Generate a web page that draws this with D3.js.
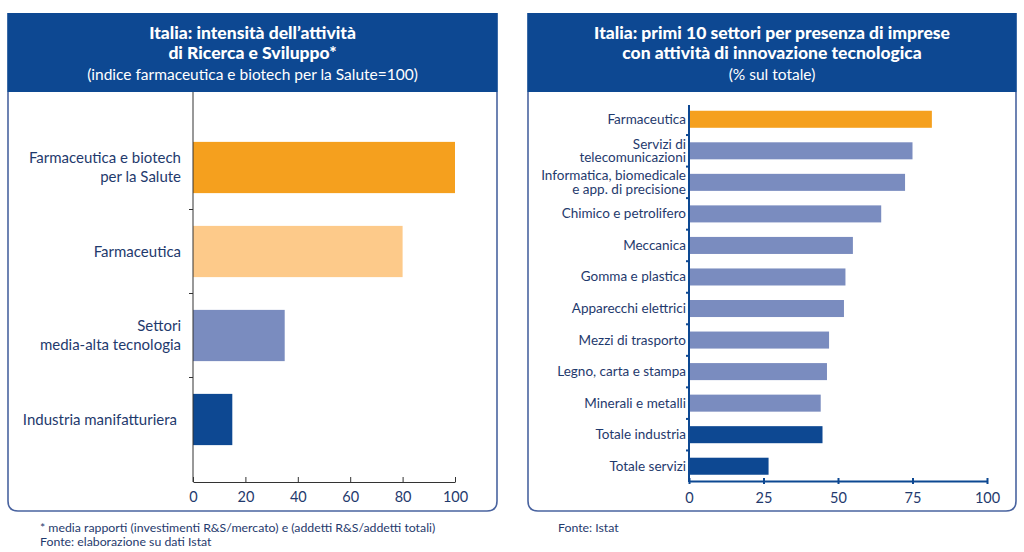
<!DOCTYPE html>
<html><head><meta charset="utf-8">
<script src="https://cdn.jsdelivr.net/npm/d3@7"></script>
<style>
body{margin:0;background:#fff;}
svg{display:block;font-family:Lato, "Open Sans", sans-serif;}
</style></head>
<body><svg id="c" width="1024" height="552"></svg>
<script>
// ---- Data ----
const leftCategories = [["Farmaceutica e biotech","per la Salute"],["Farmaceutica"],["Settori","media-alta tecnologia"],["Industria manifatturiera"]];
const leftValues = [100, 80, 35, 15];
const leftColors = ["#f5a01e","#fdca8a","#7a8cbf","#0d4892"];
const leftTicks = [0,20,40,60,80,100];

const rightCategories = [["Farmaceutica"],["Servizi di","telecomunicazioni"],["Informatica, biomedicale","e app. di precisione"],["Chimico e petrolifero"],["Meccanica"],["Gomma e plastica"],["Apparecchi elettrici"],["Mezzi di trasporto"],["Legno, carta e stampa"],["Minerali e metalli"],["Totale industria"],["Totale servizi"]];
const rightValues = [81.5, 75, 72.5, 64.5, 55, 52.5, 52, 47, 46.3, 44.2, 44.8, 26.7];
const rightColors = ["#f5a01e","#7a8cbf","#7a8cbf","#7a8cbf","#7a8cbf","#7a8cbf","#7a8cbf","#7a8cbf","#7a8cbf","#7a8cbf","#0d4892","#0d4892"];
const rightTicks = [0,25,50,75,100];

const leftTitle = ["Italia: intensità dell’attività","di Ricerca e Sviluppo*","(indice farmaceutica e biotech per la Salute=100)"];
const rightTitle = ["Italia: primi 10 settori per presenza di imprese","con attività di innovazione tecnologica","(% sul totale)"];
const leftNotes = ["* media rapporti (investimenti R&S/mercato) e (addetti R&S/addetti totali)","Fonte: elaborazione su dati Istat"];
const rightNotes = ["Fonte: Istat"];

const svg = d3.select("#c");
const navy = "#0d4892";
const textCol = "#1f3a6d";
const boxCol = "#4a64a0";

function panel(x0, x1, title){
  const top=13, hb=92, bottom=511, r=10;
  const p = d3.path();
  p.moveTo(x0, hb); p.lineTo(x0, bottom-r); p.quadraticCurveTo(x0,bottom,x0+r,bottom);
  p.lineTo(x1-r,bottom); p.quadraticCurveTo(x1,bottom,x1,bottom-r); p.lineTo(x1,hb);
  svg.append("path").attr("d",p.toString()).attr("fill","none").attr("stroke",boxCol).attr("stroke-width",1.6);
  svg.append("rect").attr("x",x0-0.8).attr("y",top).attr("width",x1-x0+1.6).attr("height",hb-top).attr("fill",navy);
  const cx=(x0+x1)/2;
  svg.append("text").attr("x",cx).attr("y",39).attr("text-anchor","middle").attr("fill","#fff").attr("font-size",17.5).attr("font-weight",900).text(title[0]);
  svg.append("text").attr("x",cx).attr("y",59).attr("text-anchor","middle").attr("fill","#fff").attr("font-size",17.5).attr("font-weight",900).text(title[1]);
  svg.append("text").attr("x",cx).attr("y",80).attr("text-anchor","middle").attr("fill","#fff").attr("font-size",15.5).text(title[2]);
}
panel(8, 497, leftTitle);
panel(528, 1016, rightTitle);

// ---- Left chart ----
{
  const x = d3.scaleLinear().domain([0,100]).range([193,455]);
  const y = d3.scaleBand().domain(d3.range(leftValues.length)).range([125.5,461.5]).paddingInner(0.39).paddingOuter(0.195);
  const g = svg.append("g");
  g.selectAll("rect.bar").data(leftValues).join("rect").attr("class","bar")
    .attr("x",x(0)).attr("y",(d,i)=>y(i)).attr("width",d=>x(d)-x(0)).attr("height",y.bandwidth())
    .attr("fill",(d,i)=>leftColors[i]);
  g.append("line").attr("x1",x(0)).attr("x2",x(0)).attr("y1",92).attr("y2",482).attr("stroke","#333").attr("stroke-width",1);
  const step=y.step();
  d3.range(1,leftValues.length).forEach(i=>{
    const yy=y(i)-(step-y.bandwidth())/2;
    g.append("line").attr("x1",x(0)-4).attr("x2",x(0)).attr("y1",yy).attr("y2",yy).attr("stroke","#333");
  });
  const ax = g.append("g").attr("transform","translate(0,482)").call(d3.axisBottom(x).tickValues(leftTicks).tickSizeInner(-5).tickSizeOuter(0).tickPadding(10));
  ax.select(".domain").attr("stroke","#333");
  ax.selectAll(".tick line").attr("stroke","#333");
  ax.selectAll("text").attr("fill",textCol).attr("font-size",14.5).attr("font-family","Lato, sans-serif");
  leftCategories.forEach((lines,i)=>{
    const cy=y(i)+y.bandwidth()/2;
    const lh=19;
    const t=g.append("text").attr("text-anchor","end").attr("fill",textCol).attr("font-size",15);
    lines.forEach((s,j)=>{
      t.append("tspan").attr("x", i===3?177:181).attr("y",cy+5-(lines.length-1)*lh/2+j*lh).text(s);
    });
  });
}

// ---- Right chart ----
{
  const x = d3.scaleLinear().domain([0,100]).range([689,987]);
  const y = d3.scaleBand().domain(d3.range(rightValues.length)).range([103.5,482]).paddingInner(0.46).paddingOuter(0.23);
  const g = svg.append("g");
  g.selectAll("rect.bar").data(rightValues).join("rect").attr("class","bar")
    .attr("x",x(0)).attr("y",(d,i)=>y(i)).attr("width",d=>x(d)-x(0)).attr("height",y.bandwidth())
    .attr("fill",(d,i)=>rightColors[i]);
  g.append("line").attr("x1",x(0)).attr("x2",x(0)).attr("y1",105).attr("y2",482).attr("stroke",navy).attr("stroke-width",2);
  const step=y.step();
  d3.range(1,rightValues.length).forEach(i=>{
    const yy=y(i)-(step-y.bandwidth())/2;
    g.append("line").attr("x1",x(0)-3).attr("x2",x(0)).attr("y1",yy).attr("y2",yy).attr("stroke",navy).attr("stroke-width",2);
  });
  const ax = g.append("g").attr("transform","translate(0,481)").call(d3.axisBottom(x).tickValues(rightTicks).tickSizeInner(3).tickSizeOuter(0).tickPadding(9));
  ax.select(".domain").attr("stroke",navy).attr("stroke-width",2.2);
  ax.selectAll(".tick line").attr("stroke",navy).attr("stroke-width",2).attr("y1",-3);
  ax.selectAll("text").attr("fill",textCol).attr("font-size",14.5).attr("font-family","Lato, sans-serif");
  rightCategories.forEach((lines,i)=>{
    const cy=y(i)+y.bandwidth()/2;
    const lh=13.5;
    const t=g.append("text").attr("text-anchor","end").attr("fill",textCol).attr("font-size",13.5);
    lines.forEach((s,j)=>{
      t.append("tspan").attr("x",686).attr("y",cy+4.5-(lines.length-1)*lh/2+j*lh).text(s);
    });
  });
}

// ---- Notes ----
leftNotes.forEach((s,j)=>{
  svg.append("text").attr("x",40).attr("y",532+j*14).attr("fill",textCol).attr("font-size",12.3).text(s);
});
rightNotes.forEach((s,j)=>{
  svg.append("text").attr("x",558).attr("y",532+j*14).attr("fill",textCol).attr("font-size",12.3).text(s);
});
</script></body></html>
